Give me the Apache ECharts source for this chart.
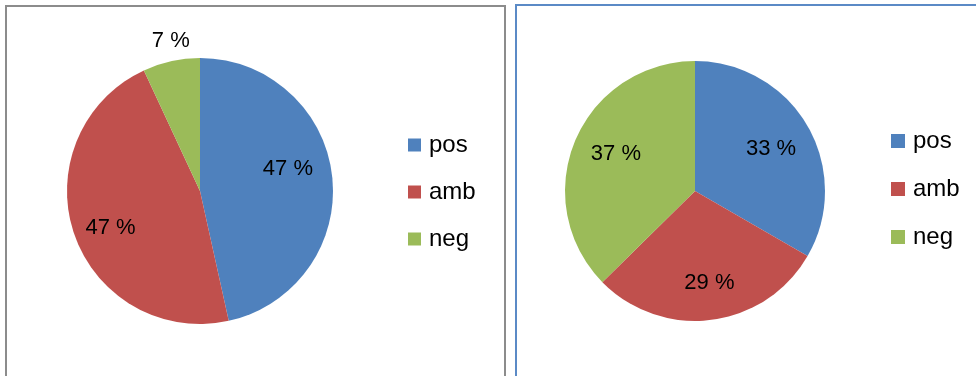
<!DOCTYPE html>
<html>
<head>
<meta charset="utf-8">
<style>
  html, body { margin: 0; padding: 0; background: #ffffff; }
  #chart { width: 976px; height: 376px; }
</style>
<script src="https://cdn.jsdelivr.net/npm/echarts@6/dist/echarts.min.js"></script>
</head>
<body>
<div id="chart"></div>
<script>
// Sentiment categories and slice colours
const categories = ['pos', 'amb', 'neg'];
const colors = ['#4F81BD', '#C0504D', '#9BBB59'];

// Percent shares for the two groups
const leftValues = [47, 47, 7];
const rightValues = [33, 29, 37];

const FONT = '"Liberation Sans", Arial, sans-serif';

function items(values, colorFn) {
  return categories.map((name, i) => ({
    name: name,
    value: values[i],
    itemStyle: { color: colorFn(i) }
  }));
}

// Solid pie, no labels
function solidPie(values, center, r) {
  return {
    type: 'pie',
    center: center,
    radius: [0, r],
    startAngle: 90,
    clockwise: true,
    silent: true,
    label: { show: false },
    labelLine: { show: false },
    itemStyle: { borderWidth: 0 },
    emphasis: { disabled: true },
    data: items(values, i => colors[i])
  };
}

// Transparent ring used only to place the value labels at a chosen radius
function labelRing(values, center, r0, r, showIdx, nudge) {
  return {
    type: 'pie',
    center: center,
    radius: [r0, r],
    startAngle: 90,
    clockwise: true,
    silent: true,
    labelLine: { show: false },
    emphasis: { disabled: true },
    labelLayout: nudge ? function (p) { return nudge[p.dataIndex] || {}; } : undefined,
    label: {
      show: true,
      position: 'inside',
      formatter: '{c} %',
      color: '#000000',
      fontFamily: FONT,
      fontSize: 22
    },
    data: categories.map((name, i) => ({
      name: name,
      value: values[i],
      itemStyle: { color: 'rgba(0,0,0,0)' },
      label: { show: showIdx.indexOf(i) >= 0 }
    }))
  };
}

function legend(left, top, gap, size) {
  return {
    orient: 'vertical',
    left: left,
    top: top,
    padding: 0,
    itemWidth: size,
    itemHeight: size,
    itemGap: gap,
    icon: 'rect',
    selectedMode: false,
    textStyle: {
      fontFamily: FONT,
      fontSize: 24,
      lineHeight: 24,
      color: '#000000',
      padding: [0, 0, 0, 3]
    },
    data: categories.map((name, i) => ({ name: name, itemStyle: { color: colors[i] } }))
  };
}

const chart = echarts.init(document.getElementById('chart'), null, { renderer: 'canvas' });

const leftCenter = [200, 191];
const rightCenter = [695, 191];
const leftR = 133;
const rightR = 130;

chart.setOption({
  animation: false,
  backgroundColor: '#ffffff',
  graphic: [
    {
      type: 'rect',
      shape: { x: 6, y: 6, width: 499, height: 380 },
      style: { fill: 'none', stroke: '#8C8C8C', lineWidth: 2 },
      silent: true
    },
    {
      type: 'rect',
      shape: { x: 516, y: 5, width: 480, height: 380 },
      style: { fill: 'none', stroke: '#5B8AC6', lineWidth: 2 },
      silent: true
    }
  ],
  legend: [
    legend(408, 133, 23, 13),
    legend(891, 129, 24, 14)
  ],
  series: [
    solidPie(leftValues, leftCenter, leftR),
    solidPie(rightValues, rightCenter, rightR),
    labelRing(leftValues, leftCenter, leftR * 0.36, leftR, [0, 1], [{ dx: -5, dy: -12 }, { dx: -1, dy: 7 }]),
    labelRing(leftValues, leftCenter, leftR + 6, leftR + 30, [2], [null, null, { dx: 4 }]),
    labelRing(rightValues, rightCenter, rightR * 0.34, rightR, [0, 1, 2], [{ dx: -2, dy: 3 }, { dx: 3, dy: 3 }, { dx: 4, dy: -2 }])
  ]
});
</script>
</body>
</html>
